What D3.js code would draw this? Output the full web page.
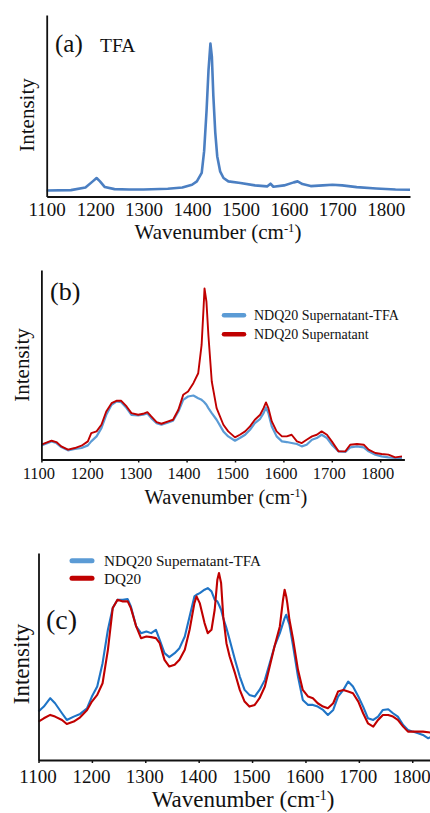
<!DOCTYPE html>
<html><head><meta charset="utf-8">
<script src="https://cdn.jsdelivr.net/npm/d3@7"></script>
<style>
html,body{margin:0;padding:0;background:#fff;}
svg text{font-family:"Liberation Serif","Times New Roman",Times,Tinos,"DejaVu Serif","Noto Serif",serif !important;fill:#111;}
</style></head>
<body><svg id="c" width="430" height="813"></svg>
<script>
// ---------- data ----------
const xTicks = [1100,1200,1300,1400,1500,1600,1700,1800];

// (a) TFA
const wnA = [1100,1150,1180,1195,1203,1210,1220,1240,1270,1300,1350,1380,1400,1410,1420,1425,1430,1434,1438,1441,1444,1448,1452,1458,1465,1475,1500,1530,1555,1562,1568,1590,1610,1618,1628,1645,1670,1690,1710,1740,1780,1820,1850];
const tfa = [3.6,3.8,5.4,9,11,9,5.6,4.4,4.2,4.2,4.6,5.4,7,9,14,27,51,75,91,83,60,38,24,15,11,9,8,6.6,6,7.6,5.8,6.6,8.4,9,7.4,6.2,6.6,7,6.6,5.6,4.8,4.2,4];

// (b)
const wnB = [1100,1121,1131,1141,1155,1169,1183,1196,1203,1214,1224,1234,1245,1255,1265,1276,1286,1300,1310,1319,1327,1338,1348,1362,1372,1383,1393,1403,1414,1424,1431,1435,1437,1441,1445,1452,1462,1476,1486,1500,1510,1521,1531,1541,1552,1559,1564,1569,1576,1586,1597,1607,1617,1628,1638,1648,1659,1669,1679,1690,1700,1714,1728,1738,1752,1766,1776,1790,1803,1817,1831,1845];
const ndqSup = [8.9,11.3,10.5,7.9,5.9,6.9,8.3,10.9,15.9,16.9,20.9,28.9,33.9,35.3,35.3,31.9,27.9,26.9,27.5,28.5,25.9,22.5,21.5,22.9,23.9,29.9,38.9,40.9,45.9,51.9,68.9,90.9,102.9,94.9,74.9,46.9,30.9,20.9,16.9,13.3,14.9,16.9,19.9,23.9,26.9,30.9,34.3,30.9,22.9,16.9,13.9,13.9,14.9,10.9,9.9,11.9,13.9,14.9,16.9,14.9,10.9,4.9,4.9,8.9,9.3,8.9,5.9,3.9,3.3,2.9,1.3,1.9];
const ndqSupTFA_b = [8.5,10.9,9.9,7.5,5.5,6.3,6.9,8.5,10.9,13.9,18.9,26.9,32.9,34.9,34.5,30.9,26.9,26.5,26.9,27.7,24.9,21.9,20.9,22.3,23.3,28.9,35.9,37.9,38.5,36.9,35.9,34.9,34.3,32.9,30.9,27.9,23.9,16.9,13.9,11.3,12.9,14.9,17.9,21.9,24.5,27.9,31.3,27.9,19.9,13.9,10.9,10.5,9.9,9.3,7.9,8.9,11.9,12.9,14.9,12.9,8.9,4.9,4.5,7.3,7.9,7.3,4.9,2.9,1.9,1.3,0.9,0.9];

// (c)
const wnC = [1100,1110,1122,1131,1144,1153,1166,1178,1191,1200,1210,1220,1230,1239,1248,1258,1267,1273,1283,1292,1302,1311,1320,1327,1336,1345,1355,1364,1374,1383,1392,1396,1402,1411,1417,1424,1430,1435,1438,1442,1446,1452,1458,1468,1477,1486,1495,1505,1514,1524,1533,1542,1552,1558,1561,1564,1566,1570,1577,1586,1595,1605,1614,1623,1633,1642,1652,1661,1671,1680,1689,1699,1708,1717,1727,1736,1745,1755,1764,1773,1783,1792,1801,1811,1820,1830,1836];
const ndqSupTFA_c = [29,32,37,34,28,24,26,27.6,31,38,44,58,78,91,96,96,96.4,92,80,76,77,76,78,72,64,61.6,64,67,74,86,98,99,100,102,103,101,96,95,93,90,85,79,72,60,50,42,39,38,42,48,58,68,76,82,85,87,85,81,68,50,36,33,33,32,30,27,30,38,42,47,44,38,32,25,24,26,30,30.4,28,26,21,18,17,16,15,13,14];
const dq20 = [23,25,27,26,24,21.6,23,25.6,30,35,39,46,66,91,96,95,95,91,80,73,74,73.6,73,70,60,56,57,60,66,78,94,98,94,82,76,78,90,108,112,106,86,70,62,52,42,35,32,33,37,44,56,68,80,96,102,98,94,84,72,54,42,38,37,34,32,31,34,41,42,41,40,35,28,22,20,24,27,27,26,24,20,17,17,17,17,16.6,16.4];

const legendB = ["NDQ20 Supernatant-TFA","NDQ20 Supernatant"];
const legendC = ["NDQ20 Supernatant-TFA","DQ20"];

// ---------- drawing ----------
const FONT = '"Liberation Serif","Times New Roman",Times,Tinos,"DejaVu Serif","Noto Serif",serif';
const svg = d3.select("#c");
const RED = "#c00000";

function txt(sel){ return sel.attr("font-family",FONT).style("font-family",FONT); }

function panel(o){
  const g = svg.append("g");
  const x = d3.scaleLinear().domain(o.xd).range(o.xr);
  const y = d3.scaleLinear().domain(o.yd).range(o.yr);
  const line = d3.line().x(d=>x(d[0])).y(d=>y(d[1]));
  o.series.forEach(s=>{
    g.append("path").datum(s.wn.map((w,i)=>[w,s.v[i]]))
      .attr("d",line).attr("fill","none").attr("stroke",s.color)
      .attr("stroke-width",s.w).attr("stroke-linejoin","round");
  });
  const xa = g.append("g").attr("transform",`translate(0,${o.yr[0]})`)
    .call(d3.axisBottom(x).tickValues(xTicks).tickFormat(d3.format("d"))
      .tickSizeInner(o.tick).tickSizeOuter(0));
  xa.attr("font-family",FONT);
  xa.select(".domain").attr("stroke","#111").attr("stroke-width",1.8);
  xa.selectAll(".tick line").attr("stroke","#111").attr("stroke-width",1.5);
  txt(xa.selectAll("text")).attr("y",o.lblY).attr("dy",null).attr("dx",o.lblDx||0)
    .style("font-size",o.lblSize+"px").attr("fill","#111");
  const ya = g.append("g").attr("transform",`translate(${o.xr[0]},0)`)
    .call(d3.axisLeft(y).tickValues([]).tickSizeOuter(0));
  ya.select(".domain").attr("stroke","#111").attr("stroke-width",1.8);
  // x title
  const t = txt(g.append("text")).attr("x",o.titleX).attr("y",o.titleY)
    .attr("text-anchor","middle").style("font-size",o.titleSize+"px");
  t.append("tspan").text("Wavenumber (cm");
  t.append("tspan").text("-1").attr("dy",-o.titleSize*0.32).style("font-size",(o.titleSize*0.6)+"px");
  t.append("tspan").text(")").attr("dy",o.titleSize*0.32);
  // y title
  txt(g.append("text")).attr("transform",`translate(${o.ylX},${o.ylY}) rotate(-90)`)
    .attr("text-anchor","middle").style("font-size",o.ylSize+"px").text("Intensity");
  return {g,x,y};
}

// (a)
const A = panel({xd:[1100,1850], xr:[46.7,410], yd:[0,108], yr:[196.5,15],
  series:[{wn:wnA,v:tfa,color:"#4b7fc2",w:2.6}],
  tick:0, lblY:19, lblSize:19, titleX:218, titleY:239, titleSize:21,
  ylX:34, ylY:115, ylSize:21});
txt(A.g.append("text")).attr("x",55).attr("y",52).style("font-size","25px").text("(a)");
txt(A.g.append("text")).attr("x",100).attr("y",52).style("font-size","19.5px").text("TFA");

// (b)
const B = panel({xd:[1100,1850], xr:[41.4,404.4], yd:[0,114], yr:[459.5,270],
  series:[{wn:wnB,v:ndqSupTFA_b,color:"#5b9bd5",w:2.2},{wn:wnB,v:ndqSup,color:RED,w:1.9}],
  tick:3, lblY:19.5, lblDx:-3, lblSize:16.5, titleX:226, titleY:504, titleSize:20.5,
  ylX:29, ylY:365, ylSize:21});
txt(B.g.append("text")).attr("x",50).attr("y",300).style("font-size","26px").text("(b)");
[["#5b9bd5",315.3],[RED,334.3]].forEach((d,i)=>{
  B.g.append("line").attr("x1",224).attr("x2",244).attr("y1",d[1]).attr("y2",d[1])
    .attr("stroke",d[0]).attr("stroke-width",4.5).attr("stroke-linecap","round");
  txt(B.g.append("text")).attr("x",254).attr("y",d[1]+5).style("font-size","14px").text(legendB[i]);
});

// (c)
const C = panel({xd:[1100,1840], xr:[38.5,433.6], yd:[0,124], yr:[760,553],
  series:[{wn:wnC,v:ndqSupTFA_c,color:"#1f74c6",w:2.1},{wn:wnC,v:dq20,color:RED,w:2.1}],
  tick:3, lblY:23, lblDx:-1, lblSize:19, titleX:243, titleY:807, titleSize:23,
  ylX:29, ylY:664, ylSize:23});
txt(C.g.append("text")).attr("x",46).attr("y",629).style("font-size","28px").text("(c)");
[["#5b9bd5",560.7],[RED,578.3]].forEach((d,i)=>{
  C.g.append("line").attr("x1",72).attr("x2",92).attr("y1",d[1]).attr("y2",d[1])
    .attr("stroke",d[0]).attr("stroke-width",5).attr("stroke-linecap","round");
  txt(C.g.append("text")).attr("x",104).attr("y",d[1]+5.5).style("font-size","15.2px").text(legendC[i]);
});
</script></body></html>
